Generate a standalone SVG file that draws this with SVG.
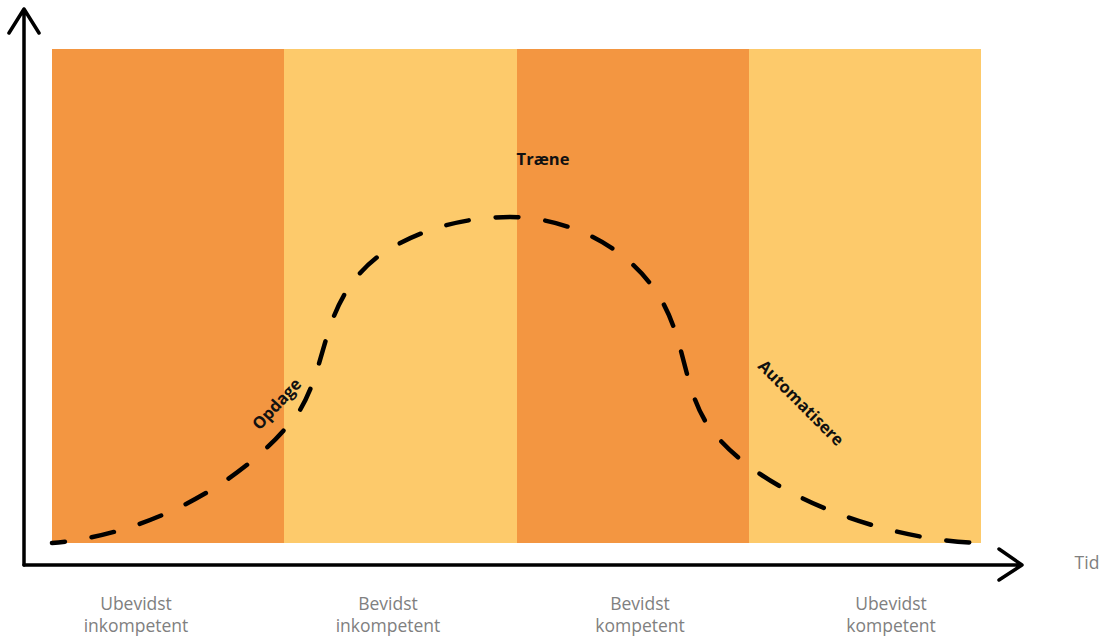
<svg xmlns="http://www.w3.org/2000/svg" width="1116" height="641" viewBox="0 0 1116 641">
<style>
.o{fill:#F39641}.y{fill:#FDCA6B}
.ax{fill:none;stroke:#000;stroke-width:3.5;stroke-linecap:round;stroke-linejoin:round}
.cv{fill:none;stroke:#000;stroke-width:4.5;stroke-linecap:round;stroke-dasharray:23 27}
.lb{font-family:"Open Sans",Lato,sans-serif;font-weight:700;font-size:16.5px;fill:#111}
.gr{font-family:"Open Sans",Lato,sans-serif;font-size:17.5px;fill:#808080;text-anchor:middle}
</style>
<g id="bands">
<rect class="o" x="52" y="49" width="232" height="494"/>
<rect class="y" x="284" y="49" width="233" height="494"/>
<rect class="o" x="517" y="49" width="232" height="494"/>
<rect class="y" x="749" y="49" width="232" height="494"/>
</g>
<g id="axes">
<path class="ax" d="M24,565 V9 M9,33 L24,9 L39,33"/>
<path class="ax" d="M24,565 H1022 M999,549 L1022,565 L999,580"/>
</g>
<g id="connectors">
<path class="cv" stroke-dashoffset="10" d="M52,543 C150,535 250,480 300,410 C330,360 320,300 380,255 C430,222 480,217 510,217 C560,217 620,240 655,290 C690,340 680,400 720,440 C770,495 880,540 981,543"/>
</g>
<g id="labels">
<text class="lb" x="543" y="165" text-anchor="middle">Træne</text>
<text class="lb" transform="translate(281,408) rotate(-47)" text-anchor="middle">Opdage</text>
<text class="lb" transform="translate(797,407) rotate(45)" text-anchor="middle">Automatisere</text>
<text class="gr" x="1087" y="569">Tid</text>
<text class="gr" x="136" y="610">Ubevidst</text>
<text class="gr" x="136" y="632">inkompetent</text>
<text class="gr" x="388" y="610">Bevidst</text>
<text class="gr" x="388" y="632">inkompetent</text>
<text class="gr" x="640" y="610">Bevidst</text>
<text class="gr" x="640" y="632">kompetent</text>
<text class="gr" x="891" y="610">Ubevidst</text>
<text class="gr" x="891" y="632">kompetent</text>
</g>
</svg>
